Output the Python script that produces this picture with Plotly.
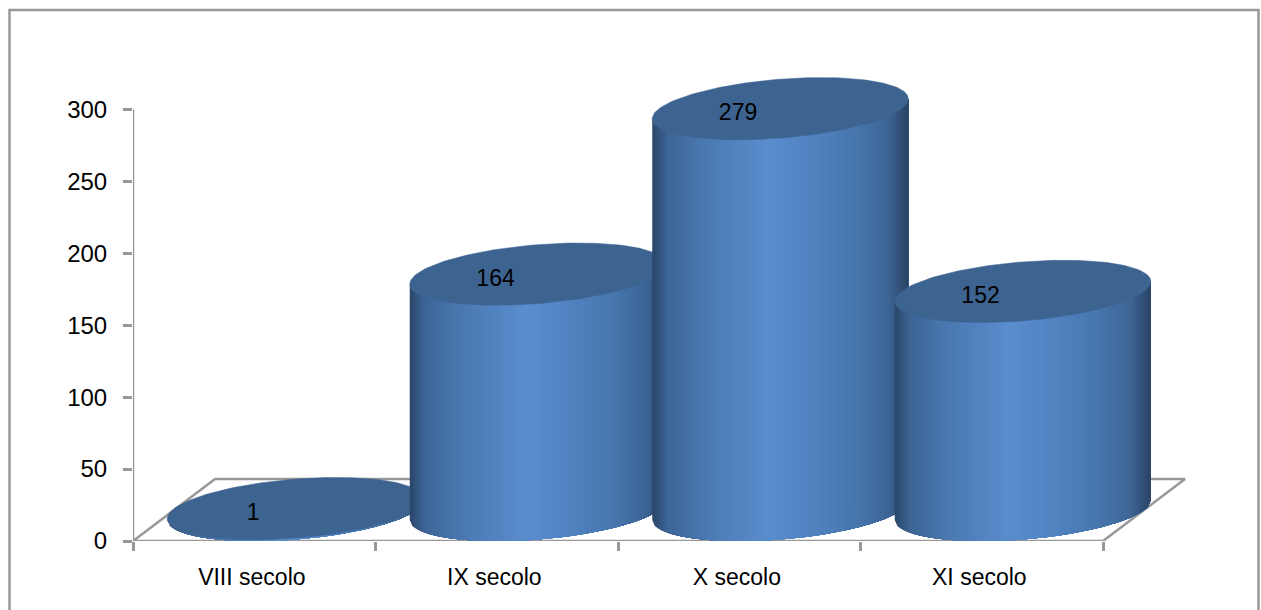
import numpy as np
import plotly.graph_objects as go

# Chart data
categories = ["VIII secolo", "IX secolo", "X secolo", "XI secolo"]
values = [1, 164, 279, 152]
y_ticks = [0, 50, 100, 150, 200, 250, 300]

# Page and plot geometry, in pixels
WIDTH, HEIGHT = 1261, 610
LEFT, BOTTOM_Y = 133, 541.5
TOP_Y = 40
RIGHT = 1233
PX_PER_CAT = 242.5
PX_PER_UNIT = 1.44

# Oblique floor depth and cylinder ellipse, expressed in axis units
DEPTH_X = 82 / PX_PER_CAT
DEPTH_Y = 62 / PX_PER_UNIT
RADIUS_X = 128 / PX_PER_CAT
RADIUS_Y = 29.5 / PX_PER_UNIT
TILT_Y = 10 / PX_PER_UNIT

GREY = "#989898"
TOP_COLOR = "#3d6391"
FONT = "Liberation Sans"
FONT_SIZE = 24
LINE_WIDTH = 2.5

# Horizontal shading across a cylinder's side
shade_pos = [0.0, 0.02, 0.06, 0.2, 0.45, 0.6, 0.8, 0.92, 1.0]
shade_r = [0x2a, 0x30, 0x3d, 0x4a, 0x5a, 0x52, 0x47, 0x3d, 0x2a]
shade_g = [0x44, 0x50, 0x65, 0x78, 0x8d, 0x84, 0x76, 0x65, 0x43]
shade_b = [0x68, 0x78, 0x96, 0xb0, 0xce, 0xc3, 0xac, 0x96, 0x64]


def shade(t):
    r = np.interp(t, shade_pos, shade_r)
    g = np.interp(t, shade_pos, shade_g)
    b = np.interp(t, shade_pos, shade_b)
    return f"rgb({r:.0f},{g:.0f},{b:.0f})"


def lower_edge(u, level):
    """Front rim height of the ellipse at horizontal fraction u in [-1, 1]."""
    return level + TILT_Y * u - RADIUS_Y * np.sqrt(np.clip(1 - u * u, 0, 1))


fig = go.Figure()

# Floor outline and the value axis line
floor_x = [0, 4, 4 + DEPTH_X, DEPTH_X, 0]
floor_y = [0, 0, DEPTH_Y, DEPTH_Y, 0]
fig.add_trace(go.Scatter(x=floor_x, y=floor_y, mode="lines", cliponaxis=False,
                         line=dict(color=GREY, width=LINE_WIDTH), hoverinfo="skip"))
fig.add_trace(go.Scatter(x=[0, 0], y=[0, max(y_ticks)], mode="lines", cliponaxis=False,
                         line=dict(color=GREY, width=LINE_WIDTH), hoverinfo="skip"))

# Cylinders, left to right so that each one overlaps its left neighbour.
# Each shading band runs through to the right edge and the next band paints
# over it, which keeps the gradient free of seams between bands.
N_STRIPS = 100
for i, value in enumerate(values):
    cx = i + 0.5 + DEPTH_X / 2
    base = DEPTH_Y / 2
    top = value + DEPTH_Y / 2
    edges = np.linspace(-1, 1, N_STRIPS + 1)
    for k in range(N_STRIPS):
        sub = edges[k:]
        xs = cx + RADIUS_X * sub
        low = lower_edge(sub, base)
        high = lower_edge(sub, top)
        fig.add_trace(go.Scatter(
            x=np.concatenate([xs, xs[::-1]]),
            y=np.concatenate([low, high[::-1]]),
            mode="lines", fill="toself", fillcolor=shade((k + 0.5) / N_STRIPS),
            line=dict(width=0), hoverinfo="skip",
        ))
    theta = np.linspace(0, 2 * np.pi, 181)
    fig.add_trace(go.Scatter(
        x=cx + RADIUS_X * np.cos(theta),
        y=top + TILT_Y * np.cos(theta) + RADIUS_Y * np.sin(theta),
        mode="lines", fill="toself", fillcolor=TOP_COLOR,
        line=dict(color=TOP_COLOR, width=0.5), hoverinfo="skip",
    ))

# Value labels on the cylinder tops
fig.add_trace(go.Scatter(
    x=[i + 0.495 for i in range(len(values))],
    y=[v + DEPTH_Y / 2 - 4 for v in values],
    mode="text", text=[str(v) for v in values],
    textposition="middle center",
    textfont=dict(family=FONT, size=23, color="#000000"),
    hoverinfo="skip",
))

# Outer frame of the chart area; its lower edge runs past the page
fig.add_shape(type="rect", xref="paper", yref="paper",
              x0=(9.5 - LEFT) / (RIGHT - LEFT),
              x1=(1258.5 - LEFT) / (RIGHT - LEFT),
              y0=(BOTTOM_Y - 625) / (BOTTOM_Y - TOP_Y),
              y1=(BOTTOM_Y - 10) / (BOTTOM_Y - TOP_Y),
              line=dict(color=GREY, width=LINE_WIDTH), layer="below")

fig.update_layout(
    width=WIDTH, height=HEIGHT,
    margin=dict(l=LEFT, r=WIDTH - RIGHT, t=TOP_Y, b=HEIGHT - BOTTOM_Y, pad=0),
    paper_bgcolor="white", plot_bgcolor="white",
    showlegend=False,
    font=dict(family=FONT, size=FONT_SIZE, color="#000000"),
    xaxis=dict(
        range=[0, (RIGHT - LEFT) / PX_PER_CAT],
        tickmode="array",
        tickvals=[i + 0.49 for i in range(len(categories))],
        ticktext=categories,
        ticks="", ticklen=0, ticklabelstandoff=20,
        showgrid=False, showline=False, zeroline=False,
        tickfont=dict(family=FONT, size=FONT_SIZE - 1),
        minor=dict(tickmode="array", tickvals=list(range(len(categories) + 1)),
                   ticks="outside", ticklen=9, tickwidth=LINE_WIDTH, tickcolor=GREY,
                   showgrid=False),
    ),
    yaxis=dict(
        range=[0, (BOTTOM_Y - TOP_Y) / PX_PER_UNIT],
        tickmode="array", tickvals=y_ticks,
        ticks="outside", ticklen=9, tickwidth=LINE_WIDTH, tickcolor=GREY,
        ticklabelstandoff=11,
        showgrid=False, showline=False, zeroline=False,
        tickfont=dict(family=FONT, size=FONT_SIZE),
    ),
)

fig.write_html("out.html")
